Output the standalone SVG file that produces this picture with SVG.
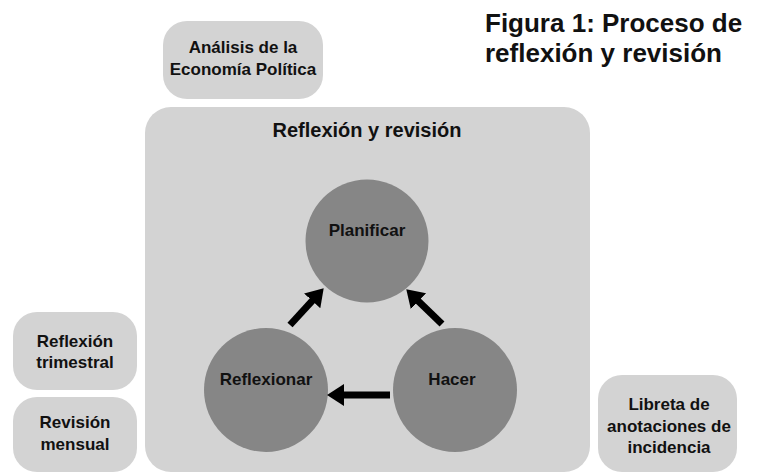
<svg xmlns="http://www.w3.org/2000/svg" width="765" height="472" viewBox="0 0 765 472">
<defs>
<style>
.box{fill:#d3d3d3;}
.circ{fill:#868686;}
text{font-family:"Liberation Sans",Arial,sans-serif;font-weight:bold;fill:#111;}
.lbl{font-size:17px;text-anchor:middle;}
.arrow{stroke:#000;stroke-width:7;fill:none;marker-end:url(#head);}
</style>
<marker id="head" markerUnits="userSpaceOnUse" markerWidth="18" markerHeight="24" refX="4" refY="11" orient="auto">
<path d="M0,0 L17,11 L0,22 z" fill="#000"/>
</marker>
</defs>
<rect width="765" height="472" fill="#fff"/>
<g id="title">
<text x="485" y="32" style="font-size:26px">Figura 1: Proceso de</text>
<text x="485" y="62" style="font-size:26px">reflexión y revisión</text>
</g>
<g id="analisis">
<rect class="box" x="163" y="21" width="160" height="78" rx="24"/>
<text class="lbl" x="243" y="53">Análisis de la</text>
<text class="lbl" x="243" y="75">Economía Política</text>
</g>
<g id="reflexion-revision">
<rect class="box" x="145" y="107" width="445" height="365" rx="26"/>
<text x="367" y="137" style="font-size:20px;text-anchor:middle">Reflexión y revisión</text>
</g>
<g id="trimestral">
<rect class="box" x="13" y="312" width="124" height="78" rx="24"/>
<text class="lbl" x="75" y="347">Reflexión</text>
<text class="lbl" x="75" y="368">trimestral</text>
</g>
<g id="mensual">
<rect class="box" x="13" y="397" width="124" height="75" rx="24"/>
<text class="lbl" x="75" y="428">Revisión</text>
<text class="lbl" x="75" y="450">mensual</text>
</g>
<g id="libreta">
<rect class="box" x="598" y="375" width="139" height="97" rx="24"/>
<text class="lbl" x="669" y="410">Libreta de</text>
<text class="lbl" x="669" y="432">anotaciones de</text>
<text class="lbl" x="669" y="453">incidencia</text>
</g>
<g id="planificar">
<circle class="circ" cx="367" cy="241" r="61.5"/>
<text class="lbl" x="367" y="236">Planificar</text>
</g>
<g id="reflexionar">
<circle class="circ" cx="266" cy="390" r="62"/>
<text class="lbl" x="266" y="385">Reflexionar</text>
</g>
<g id="hacer">
<circle class="circ" cx="455" cy="390" r="62"/>
<text class="lbl" x="452" y="385">Hacer</text>
</g>
<g id="connectors">
<line class="arrow" x1="290" y1="325" x2="314.9" y2="297.9"/>
<line class="arrow" x1="442" y1="324" x2="415.6" y2="298.4"/>
<line class="arrow" x1="390" y1="395" x2="340" y2="395"/>
</g>
</svg>
